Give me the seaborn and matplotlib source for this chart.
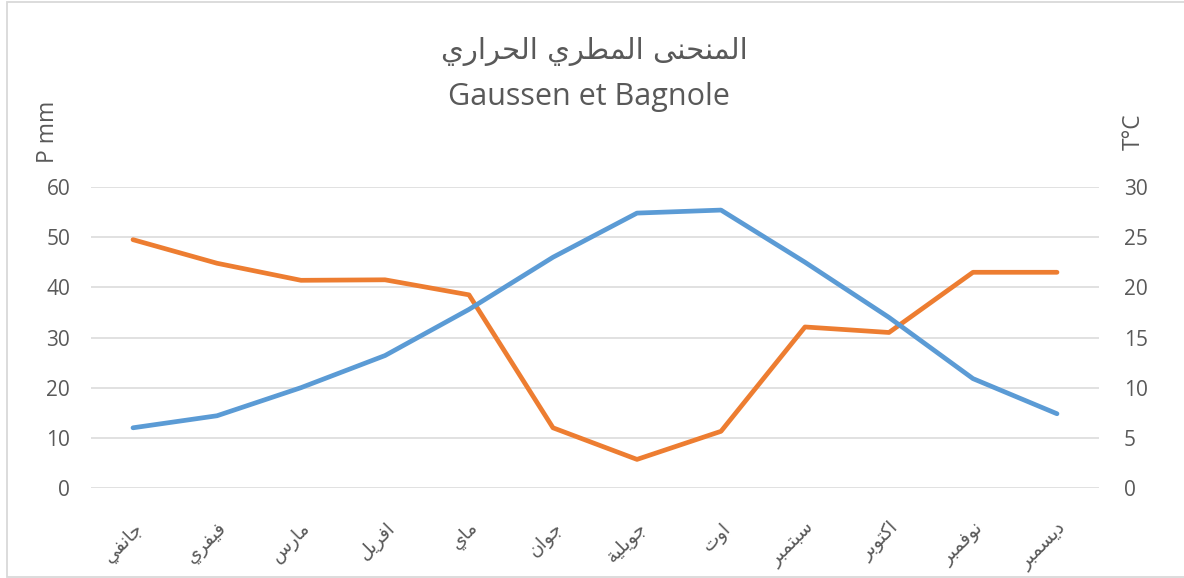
import numpy as np
import pandas as pd
import matplotlib.pyplot as plt
import matplotlib.patches as patches
import seaborn as sns


# Arabic text -> presentation forms in visual order (matplotlib does no shaping)
# letter: (isolated, final, initial, medial)
FORMS = {
    'ا': ('\uFE8D', '\uFE8E', None, None),
    'ب': ('\uFE8F', '\uFE90', '\uFE91', '\uFE92'),
    'ة': ('\uFE93', '\uFE94', None, None),
    'ت': ('\uFE95', '\uFE96', '\uFE97', '\uFE98'),
    'ج': ('\uFE9D', '\uFE9E', '\uFE9F', '\uFEA0'),
    'ح': ('\uFEA1', '\uFEA2', '\uFEA3', '\uFEA4'),
    'د': ('\uFEA9', '\uFEAA', None, None),
    'ر': ('\uFEAD', '\uFEAE', None, None),
    'س': ('\uFEB1', '\uFEB2', '\uFEB3', '\uFEB4'),
    'ط': ('\uFEC1', '\uFEC2', '\uFEC3', '\uFEC4'),
    'ف': ('\uFED1', '\uFED2', '\uFED3', '\uFED4'),
    'ك': ('\uFED9', '\uFEDA', '\uFEDB', '\uFEDC'),
    'ل': ('\uFEDD', '\uFEDE', '\uFEDF', '\uFEE0'),
    'م': ('\uFEE1', '\uFEE2', '\uFEE3', '\uFEE4'),
    'ن': ('\uFEE5', '\uFEE6', '\uFEE7', '\uFEE8'),
    'و': ('\uFEED', '\uFEEE', None, None),
    'ى': ('\uFEEF', '\uFEF0', None, None),
    'ي': ('\uFEF1', '\uFEF2', '\uFEF3', '\uFEF4'),
}


def shape(text):
    out = []
    for i, ch in enumerate(text):
        if ch not in FORMS:
            out.append(ch)
            continue
        iso, fin, ini, med = FORMS[ch]
        prev = text[i - 1] if i > 0 else None
        nxt = text[i + 1] if i < len(text) - 1 else None
        jp = prev in FORMS and FORMS[prev][2] is not None
        jn = nxt in FORMS and ini is not None
        if jp and jn:
            out.append(med)
        elif jp:
            out.append(fin)
        elif jn:
            out.append(ini)
        else:
            out.append(iso)
    return ''.join(reversed(out))


# Data
months = ['جانفي', 'فيفري', 'مارس', 'افريل', 'ماي', 'جوان',
          'جويلية', 'اوت', 'سبتمبر', 'اكتوبر', 'نوفمبر', 'ديسمبر']
precip = [49.5, 44.8, 41.4, 41.5, 38.5, 12.0, 5.7, 11.3, 32.1, 31.0, 43.0, 43.0]
temp = [6.0, 7.2, 10.0, 13.2, 17.8, 23.0, 27.4, 27.7, 22.5, 17.0, 10.9, 7.4]
title_ar = 'المنحنى المطري الحراري'
title_lat = 'Gaussen et Bagnole'

df = pd.DataFrame({'pos': range(len(months)), 'P': precip, 'T': temp})

sns.set_style('white')
plt.rcParams['font.family'] = ['Open Sans', 'DejaVu Sans']

txt = '#595959'
grid = '#D9D9D9'
W, H = 1184, 578

fig = plt.figure(figsize=(W / 100, H / 100), dpi=100)
ax = fig.add_axes([91 / W, 1 - 488 / H, (1099 - 91) / W, (488 - 187) / H])
ax2 = ax.twinx()

sns.lineplot(data=df, x='pos', y='P', ax=ax, color='#ED7D31', linewidth=3.4,
             solid_capstyle='round', solid_joinstyle='round', sort=False)
sns.lineplot(data=df, x='pos', y='T', ax=ax2, color='#5B9BD5', linewidth=3.4,
             solid_capstyle='round', solid_joinstyle='round', sort=False)

ax.set_xlim(-0.5, len(months) - 0.5)
ax.set_ylim(0, 60)
ax2.set_ylim(0, 30)
ax.set_yticks(np.arange(0, 61, 10))
ax2.set_yticks(np.arange(0, 31, 5))
ax.yaxis.grid(True, color=grid, linewidth=1.1)
ax.set_axisbelow(True)
for a in (ax, ax2):
    for s in a.spines.values():
        s.set_visible(False)
    a.set_xlabel('')
    a.set_ylabel('')
ax.tick_params(axis='y', length=0, pad=15, labelsize=15, labelcolor=txt)
ax2.tick_params(axis='y', length=0, pad=18, labelsize=15, labelcolor=txt)
ax.set_xticks(range(len(months)))
ax.set_xticklabels([shape(m) for m in months], rotation=45, ha='right',
                   va='top', rotation_mode='anchor', fontsize=13.5,
                   family='DejaVu Sans', color=txt)
ax.tick_params(axis='x', length=0, pad=22)

# titles
fig.text(594 / W, 1 - 52 / H, shape(title_ar), ha='center', va='center',
         fontsize=21, family='DejaVu Sans', color=txt)
fig.text(589 / W, 1 - 97 / H, title_lat, ha='center', va='center',
         fontsize=22, color=txt)

# axis titles
fig.text(48 / W, 1 - 132 / H, 'P mm', rotation=90, ha='center', va='center',
         fontsize=16.5, color=txt)
fig.text(1134 / W, 1 - 132 / H, 'T°C', rotation=90, ha='center', va='center',
         fontsize=16.5, color=txt)

# chart border
fig.add_artist(patches.Rectangle((6.5 / W, 1 / H), (W - 6) / W, (H - 2.5) / H,
                                 transform=fig.transFigure, fill=False,
                                 edgecolor=grid, linewidth=1.3))

fig.savefig('out.png', dpi=100)
